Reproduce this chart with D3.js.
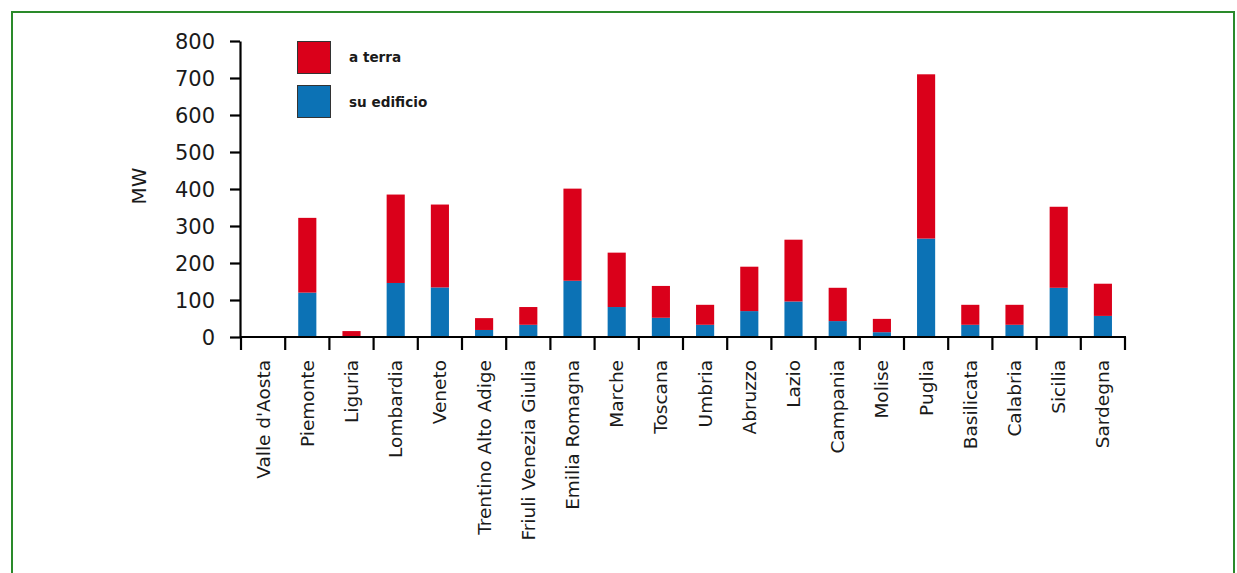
<!DOCTYPE html>
<html><head><meta charset="utf-8">
<script src="https://cdn.jsdelivr.net/npm/d3@7"></script>
<style>
html,body{margin:0;padding:0;background:#fff;}
svg{display:block;}
text{font-family:"DejaVu Sans",sans-serif;fill:#1a1a1a;}
</style></head><body>
<svg id="chart" width="1237" height="573"></svg>
<script>
const categories = ["Valle d'Aosta","Piemonte","Liguria","Lombardia","Veneto","Trentino Alto Adige","Friuli Venezia Giulia","Emilia Romagna","Marche","Toscana","Umbria","Abruzzo","Lazio","Campania","Molise","Puglia","Basilicata","Calabria","Sicilia","Sardegna"];
const suEdificio = [0,120,0,146,134,19,33,152,81,52,33,70,96,43,13,266,33,33,133,57];
const aTerra     = [0,202,16,239,224,32,48,249,147,86,54,120,167,90,36,444,54,54,219,87];
const yTicks = [0,100,200,300,400,500,600,700,800];
const seriesNames = ["a terra","su edificio"];
const seriesColors = ["#da001a","#0c72b5"];

const svg = d3.select("#chart");
// frame
svg.append("rect").attr("x",12).attr("y",12).attr("width",1222).attr("height",600)
  .attr("fill","none").attr("stroke","#2a8a2a").attr("stroke-width",2);

const x = d3.scaleBand().domain(categories).range([241,1125]).padding(0);
const y = d3.scaleLinear().domain([0,800]).range([337,41]);
const barW = x.bandwidth()*0.41;

const data = categories.map((c,i)=>({c, b:suEdificio[i], r:aTerra[i]}));
const g = svg.append("g");
g.selectAll(".blue").data(data).enter().append("rect")
  .attr("x",d=>x(d.c)+(x.bandwidth()-barW)/2).attr("width",barW)
  .attr("y",d=>y(d.b)).attr("height",d=>y(0)-y(d.b)).attr("fill",seriesColors[1]);
g.selectAll(".red").data(data).enter().append("rect")
  .attr("x",d=>x(d.c)+(x.bandwidth()-barW)/2).attr("width",barW)
  .attr("y",d=>y(d.b+d.r)).attr("height",d=>y(d.b)-y(d.b+d.r)).attr("fill",seriesColors[0]);

// y axis
const yAxis = d3.axisLeft(y).tickValues(yTicks).tickSize(10).tickPadding(15).tickSizeOuter(0);
const ya = svg.append("g").attr("transform","translate(240,0)").call(yAxis);
ya.select(".domain").attr("stroke","#000").attr("stroke-width",2.2);
ya.selectAll(".tick line").attr("stroke","#000").attr("stroke-width",2.2);
ya.selectAll(".tick text").style("font-size","21px").style("font-family","'DejaVu Sans',sans-serif").attr("fill","#1a1a1a").attr("dy","0.36em");

// x axis baseline & boundary ticks
svg.append("line").attr("x1",240).attr("x2",1126).attr("y1",y(0)).attr("y2",y(0)).attr("stroke","#000").attr("stroke-width",2.2);
const bounds = categories.map(c=>x(c)).concat([x.range()[1]]);
svg.selectAll(".xt").data(bounds).enter().append("line")
  .attr("x1",d=>d).attr("x2",d=>d).attr("y1",y(0)).attr("y2",y(0)+13)
  .attr("stroke","#000").attr("stroke-width",2.2);
svg.selectAll(".xl").data(categories).enter().append("text")
  .attr("transform",d=>`translate(${x(d)+x.bandwidth()/2+6.5},360) rotate(-90)`)
  .attr("text-anchor","end").style("font-size","18.5px").text(d=>d);

// y label
svg.append("text").attr("transform","translate(146,186) rotate(-90)").attr("text-anchor","middle")
  .style("font-size","20px").text("MW");

// legend
const lg = svg.append("g");
seriesNames.forEach((n,i)=>{
  lg.append("rect").attr("x",297.5).attr("y",41.5+i*44).attr("width",33).attr("height",32)
    .attr("fill",seriesColors[i]).attr("stroke","#333").attr("stroke-width",1);
  lg.append("text").attr("x",349).attr("y",57+i*45).attr("dy","0.35em")
    .style("font-size","13.6px").style("font-weight","bold").text(n);
});
</script></body></html>
